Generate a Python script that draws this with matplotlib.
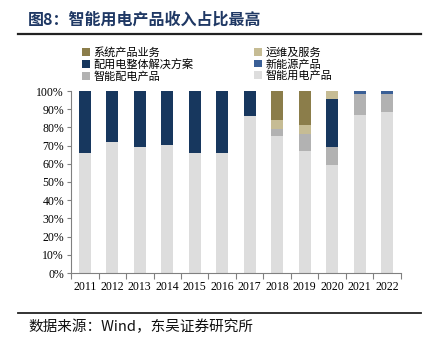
import matplotlib
matplotlib.use("Agg")
import matplotlib.pyplot as plt
from matplotlib.patches import Patch
from matplotlib.lines import Line2D

plt.rcParams['font.family'] = ['Noto Sans CJK SC', 'DejaVu Sans']

years = ['2011', '2012', '2013', '2014', '2015', '2016', '2017', '2018', '2019', '2020', '2021', '2022']
smart_use = [65.9, 71.9, 69.0, 70.1, 65.9, 66.2, 86.1, 75.2, 67.0, 59.6, 86.6, 88.3]
smart_dist = [0, 0, 0, 0, 0, 0, 0, 3.7, 9.3, 9.8, 11.7, 10.0]
new_energy = [0, 0, 0, 0, 0, 0, 0, 0, 0, 0, 1.7, 1.7]
solution = [34.1, 28.1, 31.0, 29.9, 34.1, 33.8, 13.9, 0, 0, 26.2, 0, 0]
service = [0, 0, 0, 0, 0, 0, 0, 5.1, 5.0, 4.4, 0, 0]
system = [0, 0, 0, 0, 0, 0, 0, 16.0, 18.7, 0, 0, 0]

series = [
    ('智能用电产品', smart_use, '#dddddd'),
    ('智能配电产品', smart_dist, '#b2b2b2'),
    ('新能源产品', new_energy, '#3a5f96'),
    ('配用电整体解决方案', solution, '#17375e'),
    ('运维及服务', service, '#c6bc94'),
    ('系统产品业务', system, '#8b7d4a'),
]

fig = plt.figure(figsize=(4.31, 3.41), dpi=100)
W, H = 431, 341
ax = fig.add_axes([71 / W, 1 - 273 / H, 330 / W, 182 / H])

x = list(range(len(years)))
bottom = [0.0] * len(years)
for name, vals, col in series:
    ax.bar(x, vals, width=0.43, bottom=bottom, color=col, edgecolor='none', zorder=2)
    bottom = [b + v for b, v in zip(bottom, vals)]

ax.set_xlim(-0.5, 11.5)
ax.set_ylim(0, 100)
ax.set_yticks(range(0, 101, 10))
ax.set_yticklabels([f'{v}%' for v in range(0, 101, 10)], family='Liberation Serif', fontsize=8.5)
ax.set_xticks([i - 0.5 for i in range(13)])
ax.set_xticklabels([])
ax.set_xticks(x, minor=True)
ax.set_xticklabels(years, minor=True, family='Liberation Serif', fontsize=8.5)
ax.tick_params(axis='x', which='minor', length=0, pad=6)
ax.tick_params(axis='x', which='major', length=4, color='#808080', direction='out')
ax.tick_params(axis='y', length=3, color='#808080', direction='out', pad=2)
for s in ['top', 'right']:
    ax.spines[s].set_visible(False)
ax.spines['left'].set_color('#808080')
ax.spines['bottom'].set_color('#808080')

# Title
fig.text(28 / W, 1 - 20 / H, '图8：智能用电产品收入占比最高', fontsize=11.5, fontweight='bold',
         color='#1f3864', va='center', ha='left')
fig.add_artist(Line2D([18 / W, 421 / W], [1 - 34 / H, 1 - 34 / H], color='#222222', lw=1.6,
                      transform=fig.transFigure))
fig.add_artist(Line2D([18 / W, 421 / W], [1 - 313 / H, 1 - 313 / H], color='#222222', lw=1.3,
                      transform=fig.transFigure))
fig.text(28 / W, 1 - 327 / H, '数据来源：Wind，东吴证券研究所', fontsize=10.5, color='#111111',
         va='center', ha='left')

# Legend
order = ['系统产品业务', '配用电整体解决方案', '智能配电产品', '运维及服务', '新能源产品', '智能用电产品']
cmap = {n: c for n, v, c in series}
handles = [Patch(facecolor=cmap[n], edgecolor='none', label=n) for n in order]
fig.legend(handles=handles, ncol=2, loc='upper left', bbox_to_anchor=(82 / W, 1 - 47 / H),
           frameon=False, fontsize=8, handlelength=0.7, handleheight=0.7, handletextpad=0.3,
           columnspacing=5.5, labelspacing=0.1, borderpad=0, borderaxespad=0)

fig.savefig('out.png', dpi=100)
